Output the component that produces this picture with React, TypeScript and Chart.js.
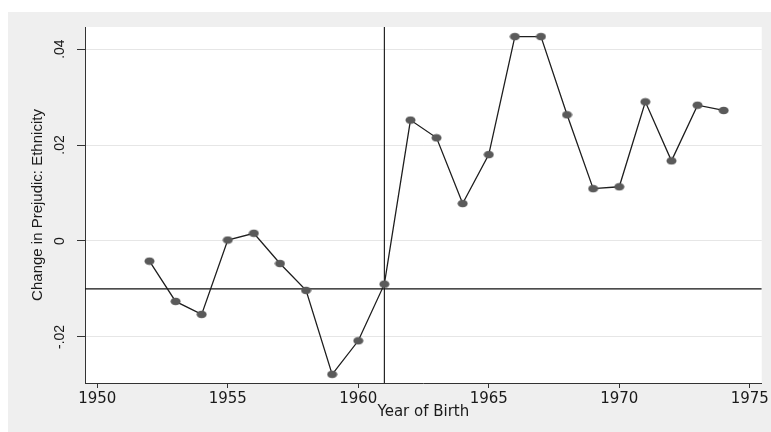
import React, { useEffect, useRef } from "react";
import { Chart, registerables } from "chart.js";

Chart.register(...registerables);

const years = [1952, 1953, 1954, 1955, 1956, 1957, 1958, 1959, 1960, 1961, 1962, 1963, 1964, 1965, 1966, 1967, 1968, 1969, 1970, 1971, 1972, 1973, 1974];
const changes = [-0.0042, -0.0126, -0.0153, 0.0002, 0.0016, -0.0047, -0.0103, -0.0278, -0.0208, -0.009, 0.0252, 0.0215, 0.0078, 0.018, 0.0426, 0.0426, 0.0263, 0.0109, 0.0113, 0.029, 0.0167, 0.0283, 0.0272];
const xTicks = [1950, 1955, 1960, 1965, 1970, 1975];
const yTicks = [-0.02, 0, 0.02, 0.04];
const yTickLabels = ["-.02", "0", ".02", ".04"];
const cutoffYear = 1961;
const refLevel = -0.01;
const xRange = [1949.53, 1975.46];
const yRange = [-0.0296, 0.0446];

const W = 771;
const H = 432;

function makeDot(): HTMLCanvasElement {
  const c = document.createElement("canvas");
  c.width = 11;
  c.height = 9;
  const g = c.getContext("2d")!;
  g.fillStyle = "#5a5a5a";
  g.beginPath();
  g.ellipse(5.5, 4.5, 5, 3.8, 0, 0, Math.PI * 2);
  g.fill();
  return c;
}

const bgPlugin = {
  id: "bg",
  beforeDraw(chart: any) {
    const { ctx, chartArea } = chart;
    ctx.save();
    ctx.fillStyle = "#ffffff";
    ctx.fillRect(0, 0, W, H);
    ctx.fillStyle = "#efefef";
    ctx.fillRect(8, 12, W - 8, H - 12);
    ctx.fillStyle = "#ffffff";
    ctx.fillRect(chartArea.left, chartArea.top, chartArea.right - chartArea.left, chartArea.bottom - chartArea.top);
    ctx.restore();
  },
};

export default function App() {
  const ref = useRef<HTMLCanvasElement | null>(null);

  useEffect(() => {
    if (!ref.current) return;
    const dot = makeDot();
    const chart = new Chart(ref.current, {
      type: "line",
      data: {
        datasets: [
          {
            data: years.map((y, i) => ({ x: y, y: changes[i] })),
            borderColor: "#1e1e1e",
            borderWidth: 1.3,
            pointStyle: dot as any,
            pointRadius: 5,
            tension: 0,
          },
          {
            data: [
              { x: xRange[0], y: refLevel },
              { x: xRange[1], y: refLevel },
            ],
            borderColor: "#111111",
            borderWidth: 1.2,
            pointRadius: 0,
          },
          {
            data: [
              { x: cutoffYear, y: yRange[0] },
              { x: cutoffYear, y: yRange[1] },
            ],
            borderColor: "#111111",
            borderWidth: 1.1,
            pointRadius: 0,
          },
        ],
      },
      options: {
        animation: false,
        responsive: false,
        devicePixelRatio: 1,
        layout: { padding: { left: 8, top: 27, right: 9, bottom: 0 } },
        plugins: { legend: { display: false }, tooltip: { enabled: false } },
        scales: {
          x: {
            type: "linear",
            min: xRange[0],
            max: xRange[1],
            afterBuildTicks: (s: any) => {
              s.ticks = xTicks.map((v) => ({ value: v }));
            },
            afterFit: (s: any) => {
              s.height = 49;
            },
            grid: { drawOnChartArea: false, tickLength: 5, tickColor: "#333333", tickWidth: 1 },
            border: { color: "#333333", width: 1 },
            ticks: {
              color: "#1a1a1a",
              padding: 2,
              maxRotation: 0,
              minRotation: 0,
              font: { family: "DejaVu Sans", size: 15 },
              callback: (v: any) => String(v),
            },
            title: {
              display: true,
              text: "Year of Birth",
              color: "#1a1a1a",
              font: { family: "DejaVu Sans", size: 15 },
              padding: { top: 0, bottom: 11 },
            },
          },
          y: {
            type: "linear",
            min: yRange[0],
            max: yRange[1],
            afterBuildTicks: (s: any) => {
              s.ticks = yTicks.map((v) => ({ value: v }));
            },
            afterFit: (s: any) => {
              s.width = 77;
            },
            grid: { color: "#e6e6e6", lineWidth: 1, tickLength: 8, tickColor: "#333333", tickWidth: 1 },
            border: { color: "#333333", width: 1 },
            ticks: {
              color: "#1a1a1a",
              padding: 5,
              minRotation: 90,
              maxRotation: 90,
              crossAlign: "center",
              font: { family: "Liberation Sans", size: 14 },
              callback: (v: any) => {
                const i = yTicks.findIndex((t) => Math.abs(t - v) < 1e-9);
                return i >= 0 ? yTickLabels[i] : "";
              },
            },
            title: {
              display: true,
              text: "Change in Prejudic: Ethnicity",
              color: "#1a1a1a",
              font: { family: "Liberation Sans", size: 15 },
              padding: { top: 21, bottom: 0 },
            },
          },
        },
      } as any,
      plugins: [bgPlugin],
    });
    return () => chart.destroy();
  }, []);

  return (
    <div style={{ position: "absolute", left: 0, top: 0, width: W, height: H }}>
      <canvas ref={ref} width={W} height={H} style={{ display: "block", width: W, height: H }} />
    </div>
  );
}
